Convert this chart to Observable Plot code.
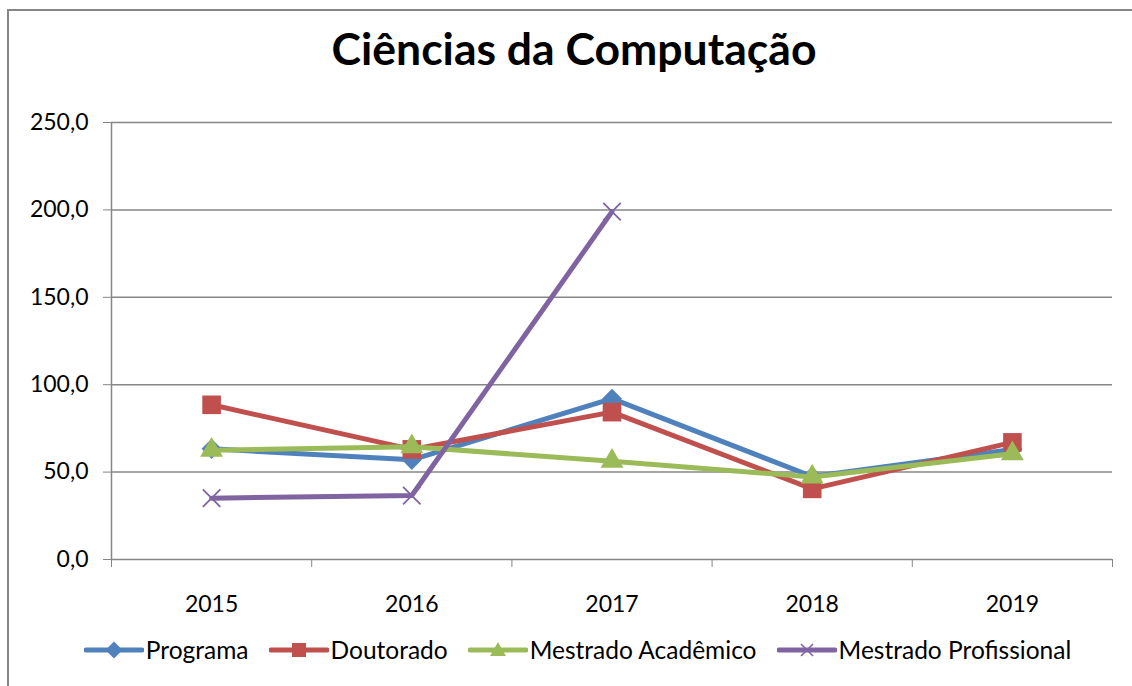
<!DOCTYPE html>
<html>
<head>
<meta charset="utf-8">
<script src="https://cdn.jsdelivr.net/npm/d3@7"></script>
<script src="https://cdn.jsdelivr.net/npm/@observablehq/plot@0.6"></script>
<style>
  html, body { margin: 0; padding: 0; background: #fff; overflow: hidden; }
  #wrap { position: relative; width: 1132px; height: 686px; font-family: Lato, "Open Sans", sans-serif; color: #000; }
  #frame { position: absolute; left: 7px; top: 9px; width: 1300px; height: 900px; border: 2px solid #868686; box-sizing: border-box; }
  #title { position: absolute; left: 0; top: 26px; width: 1148px; text-align: center; font-size: 44.5px; font-weight: 700; line-height: 1; }
  #chart { position: absolute; left: 0; top: 0; }
  #legend { position: absolute; left: 0; top: 635px; width: 1155px; display: flex; justify-content: center; align-items: center; font-size: 24.5px; line-height: 30px; }
  .item { display: flex; align-items: center; margin: 0 10px; }
  .item svg { margin-right: 2px; }
</style>
</head>
<body>
<div id="wrap">
  <div id="frame"></div>
  <div id="chart"></div>
  <div id="title">Ciências da Computação</div>
  <div id="legend"></div>
</div>
<script>
const years = [2015, 2016, 2017, 2018, 2019];
const seriesNames = ["Programa", "Doutorado", "Mestrado Acadêmico", "Mestrado Profissional"];
const programa = [63.3, 57.0, 92.0, 47.5, 63.0];
const doutorado = [88.5, 63.0, 84.3, 40.4, 67.0];
const mestradoAcademico = [62.5, 64.5, 56.2, 47.2, 60.5];
const mestradoProfissional = [35.1, 36.6, 199.0];
const yTicks = [0, 50, 100, 150, 200, 250];

const colors = ["#4F81BD", "#C0504D", "#9BBB59", "#8064A2"];
const symbols = ["square", "square", "triangle", "times"];
const rotations = [45, 0, 0, 0];
const radii = [8, 10.5, 8.5, 8];

const valuesBySeries = [programa, doutorado, mestradoAcademico, mestradoProfissional];
const data = [];
seriesNames.forEach((s, i) => {
  valuesBySeries[i].forEach((v, j) => data.push({series: s, year: years[j], value: v}));
});

const boundaries = [2014.5, 2015.5, 2016.5, 2017.5, 2018.5, 2019.5];
const fmt = d => d.toFixed(1).replace(".", ",");

const marks = [
  Plot.gridY({ticks: yTicks.filter(d => d > 0), stroke: "#868686", strokeOpacity: 1, strokeWidth: 1.5}),
  Plot.ruleY([0], {stroke: "#868686", strokeWidth: 1.5}),
  Plot.ruleX([2014.5], {stroke: "#868686", strokeWidth: 1.5}),
  Plot.axisY({ticks: yTicks, tickFormat: fmt, tickSize: 8, tickPadding: 15, stroke: "#868686", fontSize: 23, fill: "#000", label: null}),
  Plot.axisX({ticks: boundaries, tickFormat: () => "", tickSize: 8, stroke: "#868686", label: null}),
  Plot.axisX({ticks: years, tickFormat: d => String(d), tickSize: 0, tickPadding: 36, fontSize: 23, fill: "#000", label: null})
];

seriesNames.forEach((s, i) => {
  const rows = data.filter(d => d.series === s);
  marks.push(Plot.line(rows, {x: "year", y: "value", stroke: colors[i], strokeWidth: 5, strokeLinejoin: "round"}));
  marks.push(Plot.dot(rows, {
    x: "year", y: "value", symbol: () => symbols[i], r: radii[i], rotate: rotations[i],
    fill: symbols[i] === "times" ? "none" : colors[i],
    stroke: symbols[i] === "times" ? colors[i] : "none",
    strokeWidth: 1.8
  }));
});

const chart = Plot.plot({
  width: 1132,
  height: 686,
  marginLeft: 111,
  marginRight: 20,
  marginTop: 122,
  marginBottom: 127,
  style: {fontFamily: "Lato, 'Open Sans', sans-serif", background: "transparent", overflow: "visible"},
  x: {type: "linear", domain: [2014.5, 2019.5], axis: null, label: null},
  y: {domain: [0, 250], axis: null, label: null},
  symbol: {type: "identity"},
  marks
});
document.getElementById("chart").appendChild(chart);

// Legend
const legend = document.getElementById("legend");
const shapes = [
  c => `<rect x="24" y="4" width="12" height="12" fill="${c}" transform="rotate(45 30 10)"/>`,
  c => `<rect x="23" y="3" width="14" height="14" fill="${c}"/>`,
  c => `<path d="M30,2 L38,16 L22,16 Z" fill="${c}"/>`,
  c => `<path d="M24,4 L36,16 M36,4 L24,16" stroke="${c}" stroke-width="1.6"/>`
];
seriesNames.forEach((s, i) => {
  const item = document.createElement("div");
  item.className = "item";
  item.innerHTML = `<svg width="60" height="20"><line x1="2" x2="58" y1="10" y2="10" stroke="${colors[i]}" stroke-width="5" stroke-linecap="round"/>${shapes[i](colors[i])}</svg><span>${s}</span>`;
  legend.appendChild(item);
});
</script>
</body>
</html>
